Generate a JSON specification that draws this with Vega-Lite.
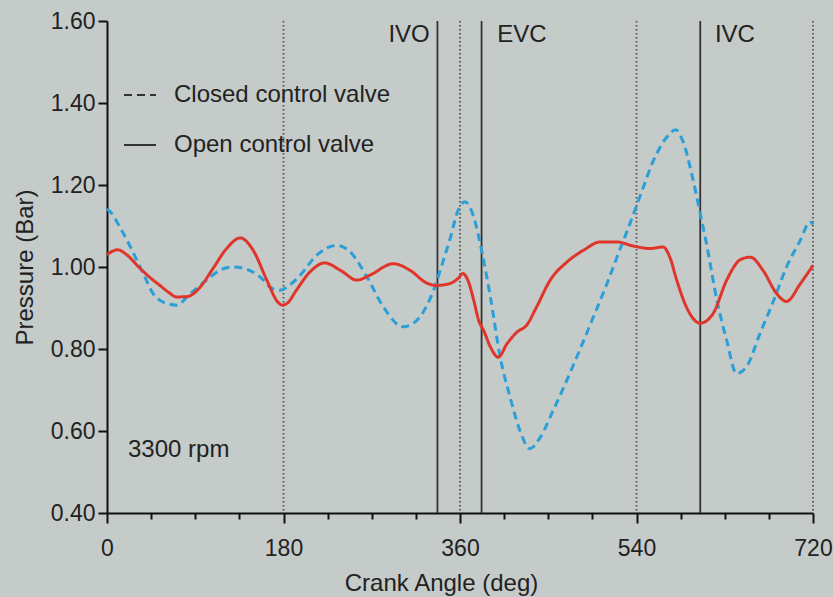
{
  "$schema": "https://vega.github.io/schema/vega-lite/v6.json",
  "width": 706,
  "height": 492,
  "autosize": "none",
  "padding": {"left": 107, "top": 21, "right": 20, "bottom": 84},
  "background": "#c5cbc9",
  "config": {"view": {"stroke": null}, "font": "Liberation Sans"},
  "datasets": {
    "pressure": [
      {"angle": 0, "pressure": 1.142, "valve": "Closed control valve"},
      {"angle": 4, "pressure": 1.133, "valve": "Closed control valve"},
      {"angle": 13, "pressure": 1.098, "valve": "Closed control valve"},
      {"angle": 23, "pressure": 1.053, "valve": "Closed control valve"},
      {"angle": 37, "pressure": 0.984, "valve": "Closed control valve"},
      {"angle": 47, "pressure": 0.935, "valve": "Closed control valve"},
      {"angle": 61, "pressure": 0.911, "valve": "Closed control valve"},
      {"angle": 71, "pressure": 0.907, "valve": "Closed control valve"},
      {"angle": 85, "pressure": 0.935, "valve": "Closed control valve"},
      {"angle": 102, "pressure": 0.969, "valve": "Closed control valve"},
      {"angle": 115, "pressure": 0.992, "valve": "Closed control valve"},
      {"angle": 128, "pressure": 1.0, "valve": "Closed control valve"},
      {"angle": 143, "pressure": 0.994, "valve": "Closed control valve"},
      {"angle": 156, "pressure": 0.976, "valve": "Closed control valve"},
      {"angle": 167, "pressure": 0.95, "valve": "Closed control valve"},
      {"angle": 176, "pressure": 0.943, "valve": "Closed control valve"},
      {"angle": 183, "pressure": 0.95, "valve": "Closed control valve"},
      {"angle": 197, "pressure": 0.98, "valve": "Closed control valve"},
      {"angle": 214, "pressure": 1.029, "valve": "Closed control valve"},
      {"angle": 234, "pressure": 1.053, "valve": "Closed control valve"},
      {"angle": 248, "pressure": 1.037, "valve": "Closed control valve"},
      {"angle": 265, "pressure": 0.976, "valve": "Closed control valve"},
      {"angle": 282, "pressure": 0.902, "valve": "Closed control valve"},
      {"angle": 302, "pressure": 0.854, "valve": "Closed control valve"},
      {"angle": 316, "pressure": 0.87, "valve": "Closed control valve"},
      {"angle": 333, "pressure": 0.943, "valve": "Closed control valve"},
      {"angle": 343, "pressure": 1.016, "valve": "Closed control valve"},
      {"angle": 350, "pressure": 1.07, "valve": "Closed control valve"},
      {"angle": 358, "pressure": 1.138, "valve": "Closed control valve"},
      {"angle": 365, "pressure": 1.159, "valve": "Closed control valve"},
      {"angle": 374, "pressure": 1.122, "valve": "Closed control valve"},
      {"angle": 382, "pressure": 1.041, "valve": "Closed control valve"},
      {"angle": 391, "pressure": 0.927, "valve": "Closed control valve"},
      {"angle": 401, "pressure": 0.78, "valve": "Closed control valve"},
      {"angle": 411, "pressure": 0.683, "valve": "Closed control valve"},
      {"angle": 421, "pressure": 0.602, "valve": "Closed control valve"},
      {"angle": 431, "pressure": 0.557, "valve": "Closed control valve"},
      {"angle": 442, "pressure": 0.585, "valve": "Closed control valve"},
      {"angle": 455, "pressure": 0.65, "valve": "Closed control valve"},
      {"angle": 469, "pressure": 0.724, "valve": "Closed control valve"},
      {"angle": 482, "pressure": 0.797, "valve": "Closed control valve"},
      {"angle": 496, "pressure": 0.878, "valve": "Closed control valve"},
      {"angle": 510, "pressure": 0.96, "valve": "Closed control valve"},
      {"angle": 521, "pressure": 1.03, "valve": "Closed control valve"},
      {"angle": 530, "pressure": 1.085, "valve": "Closed control valve"},
      {"angle": 544, "pressure": 1.175, "valve": "Closed control valve"},
      {"angle": 557, "pressure": 1.258, "valve": "Closed control valve"},
      {"angle": 571, "pressure": 1.317, "valve": "Closed control valve"},
      {"angle": 580, "pressure": 1.335, "valve": "Closed control valve"},
      {"angle": 587, "pressure": 1.309, "valve": "Closed control valve"},
      {"angle": 597, "pressure": 1.22, "valve": "Closed control valve"},
      {"angle": 605, "pressure": 1.13, "valve": "Closed control valve"},
      {"angle": 612, "pressure": 1.049, "valve": "Closed control valve"},
      {"angle": 622, "pressure": 0.919, "valve": "Closed control valve"},
      {"angle": 632, "pressure": 0.821, "valve": "Closed control valve"},
      {"angle": 642, "pressure": 0.74, "valve": "Closed control valve"},
      {"angle": 652, "pressure": 0.756, "valve": "Closed control valve"},
      {"angle": 666, "pressure": 0.838, "valve": "Closed control valve"},
      {"angle": 680, "pressure": 0.919, "valve": "Closed control valve"},
      {"angle": 693, "pressure": 1.0, "valve": "Closed control valve"},
      {"angle": 707, "pressure": 1.065, "valve": "Closed control valve"},
      {"angle": 717, "pressure": 1.11, "valve": "Closed control valve"},
      {"angle": 720, "pressure": 1.104, "valve": "Closed control valve"},
      {"angle": 0, "pressure": 1.03, "valve": "Open control valve"},
      {"angle": 3, "pressure": 1.035, "valve": "Open control valve"},
      {"angle": 11, "pressure": 1.042, "valve": "Open control valve"},
      {"angle": 20, "pressure": 1.03, "valve": "Open control valve"},
      {"angle": 34, "pressure": 0.996, "valve": "Open control valve"},
      {"angle": 45, "pressure": 0.972, "valve": "Open control valve"},
      {"angle": 54, "pressure": 0.955, "valve": "Open control valve"},
      {"angle": 63, "pressure": 0.938, "valve": "Open control valve"},
      {"angle": 71, "pressure": 0.927, "valve": "Open control valve"},
      {"angle": 82, "pressure": 0.928, "valve": "Open control valve"},
      {"angle": 95, "pressure": 0.951, "valve": "Open control valve"},
      {"angle": 108, "pressure": 0.996, "valve": "Open control valve"},
      {"angle": 122, "pressure": 1.045, "valve": "Open control valve"},
      {"angle": 136, "pressure": 1.071, "valve": "Open control valve"},
      {"angle": 149, "pressure": 1.041, "valve": "Open control valve"},
      {"angle": 163, "pressure": 0.968, "valve": "Open control valve"},
      {"angle": 174, "pressure": 0.915, "valve": "Open control valve"},
      {"angle": 179, "pressure": 0.907, "valve": "Open control valve"},
      {"angle": 184, "pressure": 0.912, "valve": "Open control valve"},
      {"angle": 193, "pressure": 0.943, "valve": "Open control valve"},
      {"angle": 207, "pressure": 0.988, "valve": "Open control valve"},
      {"angle": 222, "pressure": 1.01, "valve": "Open control valve"},
      {"angle": 238, "pressure": 0.992, "valve": "Open control valve"},
      {"angle": 255, "pressure": 0.968, "valve": "Open control valve"},
      {"angle": 268, "pressure": 0.98, "valve": "Open control valve"},
      {"angle": 292, "pressure": 1.008, "valve": "Open control valve"},
      {"angle": 309, "pressure": 0.992, "valve": "Open control valve"},
      {"angle": 326, "pressure": 0.961, "valve": "Open control valve"},
      {"angle": 336, "pressure": 0.955, "valve": "Open control valve"},
      {"angle": 350, "pressure": 0.96, "valve": "Open control valve"},
      {"angle": 358, "pressure": 0.972, "valve": "Open control valve"},
      {"angle": 363, "pressure": 0.984, "valve": "Open control valve"},
      {"angle": 368, "pressure": 0.968, "valve": "Open control valve"},
      {"angle": 374, "pressure": 0.919, "valve": "Open control valve"},
      {"angle": 379, "pressure": 0.87, "valve": "Open control valve"},
      {"angle": 384, "pressure": 0.846, "valve": "Open control valve"},
      {"angle": 391, "pressure": 0.805, "valve": "Open control valve"},
      {"angle": 399, "pressure": 0.78, "valve": "Open control valve"},
      {"angle": 408, "pressure": 0.813, "valve": "Open control valve"},
      {"angle": 418, "pressure": 0.841, "valve": "Open control valve"},
      {"angle": 428, "pressure": 0.858, "valve": "Open control valve"},
      {"angle": 438, "pressure": 0.902, "valve": "Open control valve"},
      {"angle": 452, "pressure": 0.968, "valve": "Open control valve"},
      {"angle": 469, "pressure": 1.012, "valve": "Open control valve"},
      {"angle": 486, "pressure": 1.041, "valve": "Open control valve"},
      {"angle": 503, "pressure": 1.061, "valve": "Open control valve"},
      {"angle": 520, "pressure": 1.061, "valve": "Open control valve"},
      {"angle": 537, "pressure": 1.051, "valve": "Open control valve"},
      {"angle": 554, "pressure": 1.045, "valve": "Open control valve"},
      {"angle": 567, "pressure": 1.049, "valve": "Open control valve"},
      {"angle": 574, "pressure": 1.024, "valve": "Open control valve"},
      {"angle": 581, "pressure": 0.968, "valve": "Open control valve"},
      {"angle": 591, "pressure": 0.902, "valve": "Open control valve"},
      {"angle": 605, "pressure": 0.863, "valve": "Open control valve"},
      {"angle": 618, "pressure": 0.886, "valve": "Open control valve"},
      {"angle": 632, "pressure": 0.968, "valve": "Open control valve"},
      {"angle": 646, "pressure": 1.018, "valve": "Open control valve"},
      {"angle": 656, "pressure": 1.024, "valve": "Open control valve"},
      {"angle": 669, "pressure": 0.992, "valve": "Open control valve"},
      {"angle": 683, "pressure": 0.935, "valve": "Open control valve"},
      {"angle": 693, "pressure": 0.916, "valve": "Open control valve"},
      {"angle": 707, "pressure": 0.959, "valve": "Open control valve"},
      {"angle": 720, "pressure": 1.004, "valve": "Open control valve"}
    ],
    "dotted": [
      {"angle": 180}, {"angle": 360}, {"angle": 540}, {"angle": 720}
    ],
    "events": [
      {"angle": 337, "event": "IVO"},
      {"angle": 382, "event": "EVC"},
      {"angle": 605, "event": "IVC"}
    ],
    "labels": [
      {"angle": 287, "pressure": 1.567, "text": "IVO"},
      {"angle": 398, "pressure": 1.567, "text": "EVC"},
      {"angle": 620, "pressure": 1.567, "text": "IVC"},
      {"angle": 21.4, "pressure": 0.553, "text": "3300 rpm"}
    ]
  },
  "layer": [
    {
      "data": {"name": "dotted"},
      "mark": {"type": "rule", "color": "#505050", "strokeWidth": 1.8, "strokeDash": [1.6, 2.4]},
      "encoding": {
        "x": {"field": "angle", "type": "quantitative", "scale": {"domain": [0, 720], "nice": false}}
      }
    },
    {
      "data": {"name": "events"},
      "mark": {"type": "rule", "color": "#333333", "strokeWidth": 1.8},
      "encoding": {
        "x": {"field": "angle", "type": "quantitative"}
      }
    },
    {
      "data": {"name": "pressure"},
      "mark": {"type": "line", "strokeWidth": 3, "interpolate": "monotone"},
      "encoding": {
        "x": {
          "field": "angle", "type": "quantitative",
          "scale": {"domain": [0, 720], "nice": false},
          "axis": {
            "values": [0, 45, 90, 135, 180, 225, 270, 315, 360, 405, 450, 495, 540, 585, 630, 675, 720],
            "labelExpr": "datum.value % 180 === 0 ? datum.label : ''",
            "tickSize": {"condition": {"test": "datum.value % 180 === 0", "value": 10}, "value": 6},
            "title": "Crank Angle (deg)",
            "titleX": 334,
            "grid": false,
            "domainColor": "#111111", "domainWidth": 2,
            "tickColor": "#111111", "tickWidth": 2,
            "labelFont": "Liberation Sans", "labelFontSize": 23, "labelColor": "#222222",
            "labelPadding": 14, "labelFlush": false, "labelOverlap": false,
            "titleFont": "Liberation Sans", "titleFontSize": 24, "titleFontWeight": "normal", "titleColor": "#222222",
            "titlePadding": 11
          }
        },
        "y": {
          "field": "pressure", "type": "quantitative",
          "scale": {"domain": [0.4, 1.6], "nice": false, "zero": false},
          "axis": {
            "values": [0.4, 0.6, 0.8, 1.0, 1.2, 1.4, 1.6],
            "format": ".2f",
            "title": "Pressure (Bar)",
            "grid": false,
            "tickSize": 9,
            "domainColor": "#111111", "domainWidth": 2,
            "tickColor": "#111111", "tickWidth": 2,
            "labelFont": "Liberation Sans", "labelFontSize": 23, "labelColor": "#222222",
            "labelPadding": 3, "labelFlush": false, "labelOverlap": false,
            "titleFont": "Liberation Sans", "titleFontSize": 24, "titleFontWeight": "normal", "titleColor": "#222222",
            "titlePadding": 13
          }
        },
        "color": {
          "field": "valve", "type": "nominal",
          "scale": {"range": ["#2a9fd8", "#e0352b"]},
          "legend": null
        },
        "strokeDash": {
          "field": "valve", "type": "nominal",
          "scale": {"domain": ["Closed control valve", "Open control valve"], "range": [[8, 5], [1, 0]]},
          "legend": {
            "orient": "none", "legendX": 16, "legendY": 57,
            "title": null,
            "symbolType": "stroke", "symbolSize": 1024, "symbolStrokeWidth": 2,
            "symbolStrokeColor": "#333333",
            "labelFont": "Liberation Sans", "labelFontSize": 24, "labelColor": "#222222",
            "labelOffset": 17, "rowPadding": 21, "labelLimit": 0,
            "encode": {"symbols": {"update": {"stroke": {"value": "#333333"}, "strokeWidth": {"value": 2}}}}
          }
        }
      }
    },
    {
      "data": {"name": "labels"},
      "mark": {"type": "text", "align": "left", "baseline": "middle", "font": "Liberation Sans", "fontSize": 24, "color": "#222222"},
      "encoding": {
        "x": {"field": "angle", "type": "quantitative"},
        "y": {"field": "pressure", "type": "quantitative"},
        "text": {"field": "text"}
      }
    }
  ]
}
